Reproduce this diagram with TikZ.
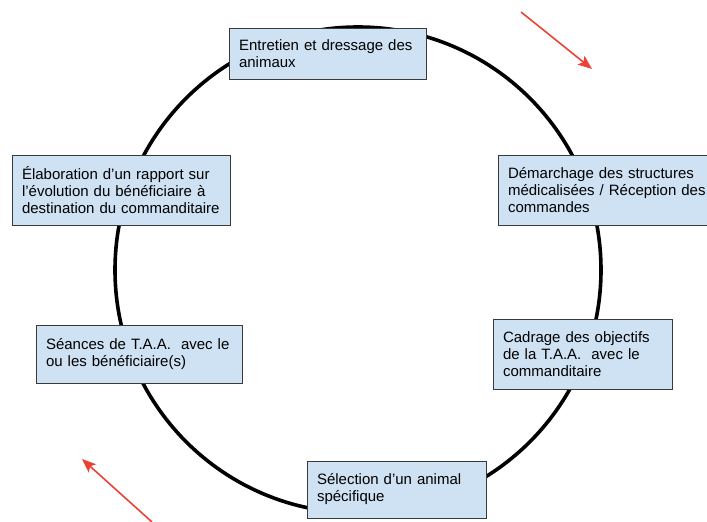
\documentclass[tikz,border=0pt]{standalone}
\usepackage{fontspec}
\setmainfont{Liberation Sans}
\usetikzlibrary{positioning,arrows.meta}
\definecolor{boxblue}{HTML}{CFE2F3}
\definecolor{boxline}{HTML}{3A3A3A}
\definecolor{arrred}{HTML}{EA4335}
\tikzset{etape/.style={draw=boxline, line width=0.8pt, fill=boxblue, align=left, inner xsep=10pt, inner ysep=0pt, font=\fontsize{15}{17}\selectfont}}
\tikzset{boucle/.style={draw, line width=3.6pt}}
\tikzset{rouge/.style={draw=arrred, line width=1.6pt, -{Stealth[length=14pt,width=11pt,inset=3pt]}}}

\begin{document}
\begin{tikzpicture}[x=1pt, y=-1pt]
	\clip (0,0) rectangle (707,522);
	% cycle
	\coordinate (O) at (358,270);
	\draw[boucle] (O) circle[radius=243pt];
	% steps
	\node[etape, text width=177pt, minimum height=51pt] (E) at (327.5,53.5)
		{Entretien et dressage des\\animaux};
	\node[etape, text width=200pt, minimum height=70pt] (D) at (608,190)
		{D\'emarchage des structures\\m\'edicalis\'ees / R\'eception des\\commandes};
	\node[etape, text width=159pt, minimum height=70pt] (C) at (582.5,354)
		{Cadrage des objectifs\\de la T.A.A.\ \ avec le\\commanditaire};
	\node[etape, text width=159pt, minimum height=57pt] (A) at (396.5,489.5)
		{S\'election d’un animal\\sp\'ecifique};
	\node[etape, text width=186pt, minimum height=58pt] (S) at (139,354)
		{S\'eances de T.A.A.\ \ avec le\\ou les b\'en\'eficiaire(s)};
	\node[etape, text width=198pt, minimum height=70pt] (R) at (121,190)
		{\'Elaboration d’un rapport sur\\l’\'evolution du b\'en\'eficiaire \`a\\destination du commanditaire};
	% arrows
	\coordinate (h1) at (521,12);
	\coordinate (h2) at (592,69);
	\coordinate (b1) at (152,522);
	\coordinate (b2) at (82,459);
	\draw[rouge] (h1) -- (h2);
	\draw[rouge] (b1) -- (b2);
\end{tikzpicture}
\end{document}
